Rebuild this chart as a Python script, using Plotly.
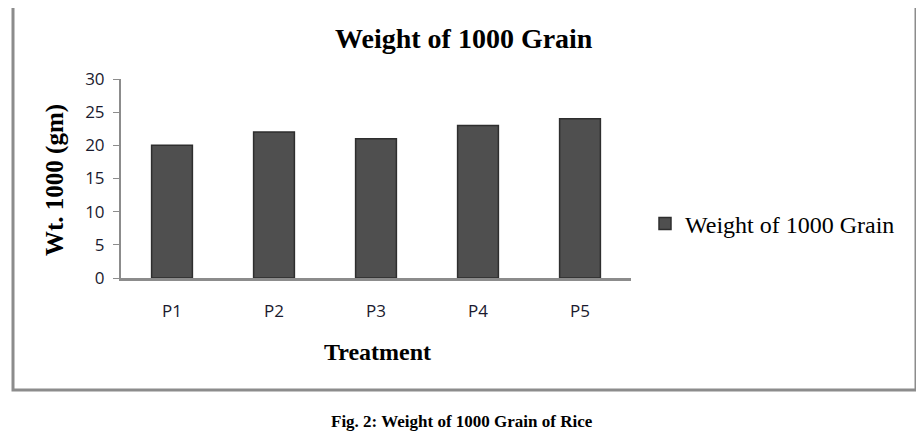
import plotly.graph_objects as go

categories = ["P1", "P2", "P3", "P4", "P5"]
values = [20, 22, 21, 23, 24]
series_name = "Weight of 1000 Grain"

# page coordinates of plot area (page has an 8px body margin)
OFF = 8
L, R, T, B = 121, 631, 79, 278
W, H = 924, 431
def px(x): return (x - L) / (R - L)
def py(y): return (B - y) / (B - T)

fig = go.Figure()
fig.add_trace(go.Bar(
    x=categories, y=values, name=series_name, width=0.4,
    marker=dict(color="#4f4f4f", line=dict(color="#2e2e2e", width=1.5)),
    showlegend=True,
))

def ann(text, x, y, size, angle=0):
    return dict(text=text, x=px(x), y=py(y), xref="paper", yref="paper",
                xanchor="center", yanchor="middle", showarrow=False, textangle=angle,
                font=dict(family="Liberation Serif", size=size, color="#000"))

fig.update_layout(
    width=W, height=H,
    margin=dict(l=L - OFF, r=W - (R - OFF), t=T - OFF, b=H - (B - OFF), autoexpand=False),
    paper_bgcolor="white", plot_bgcolor="white",
    showlegend=True,
    legend=dict(x=px(645), y=py(224), xanchor="left", yanchor="middle",
                font=dict(family="Liberation Serif", size=24, color="#000000"),
                bgcolor="rgba(0,0,0,0)", itemwidth=30),
    xaxis=dict(showline=True, linecolor="#8c8c8c", linewidth=2.5, ticks="",
               showgrid=False, tickfont=dict(family="Open Sans", size=17, color="#1a1a2e"),
               ticklabelstandoff=16),
    yaxis=dict(range=[0, 30], dtick=5, showline=True, linecolor="#8c8c8c", linewidth=2,
               ticks="outside", ticklen=6, tickcolor="#8c8c8c", showgrid=False, zeroline=False,
               tickfont=dict(family="Open Sans", size=17, color="#1a1a2e"), ticklabelstandoff=5),
    annotations=[
        ann("<b>Weight of 1000 Grain</b>", 464, 38, 28),
        ann("<b>Wt. 1000 (gm)</b>", 55, 180, 25, -90),
        ann("<b>Treatment</b>", 377, 352, 24),
        ann("<b>Fig. 2: Weight of 1000 Grain of Rice</b>", 462, 421, 17),
    ],
    shapes=[
        dict(type="rect", xref="paper", yref="paper", x0=px(13), x1=px(916), y0=py(6), y1=py(390),
             line=dict(color="#8c8c8c", width=3), fillcolor="rgba(0,0,0,0)", layer="below"),
    ],
)

fig.write_html("out.html")
